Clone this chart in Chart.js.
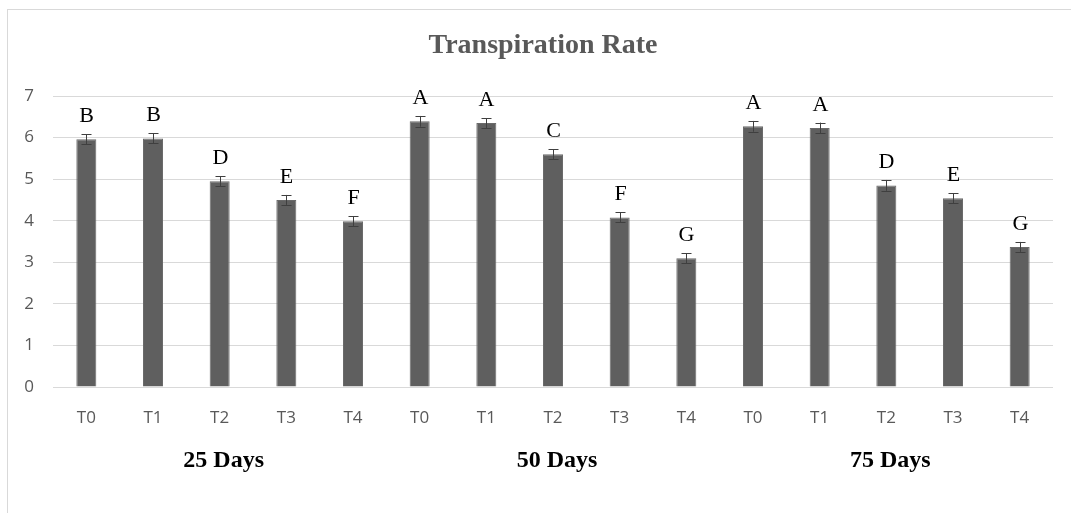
<!DOCTYPE html>
<html>
<head>
<meta charset="utf-8">
<script src="https://cdn.jsdelivr.net/npm/chart.js@4"></script>
<style>
html,body{margin:0;padding:0;background:#fff;}
#wrap{position:relative;width:1071px;height:513px;}
</style>
</head>
<body>
<div id="wrap"><canvas id="c" width="1071" height="513"></canvas></div>
<script>
const categories = ["T0","T1","T2","T3","T4","T0","T1","T2","T3","T4","T0","T1","T2","T3","T4"];
const groups = ["25 Days","50 Days","75 Days"];
const values = [5.96,5.98,4.95,4.50,3.99, 6.39,6.35,5.60,4.08,3.10, 6.27,6.23,4.85,4.54,3.37];
const errors = [0.12,0.12,0.12,0.12,0.12, 0.13,0.12,0.12,0.12,0.12, 0.13,0.13,0.13,0.12,0.12];
const letters = ["B","B","D","E","F","A","A","C","F","G","A","A","D","E","G"];
const yTicks = [0,1,2,3,4,5,6,7];
const titleText = "Transpiration Rate";

const overlay = {
  id:'overlay',
  beforeDraw(chart){
    const ctx = chart.ctx;
    ctx.save();
    ctx.fillStyle='#fff';
    ctx.fillRect(0,0,chart.width,chart.height);
    ctx.strokeStyle='#d9d9d9';
    ctx.lineWidth=1;
    ctx.strokeRect(7.5,9.5,1080,520);
    ctx.fillStyle='#595959';
    ctx.font='bold 28px "Liberation Serif", serif';
    ctx.textAlign='center';
    ctx.textBaseline='alphabetic';
    ctx.fillText(titleText, 543, 53);
    ctx.restore();
  },
  afterDatasetsDraw(chart){
    const ctx = chart.ctx;
    const x = chart.scales.x, y = chart.scales.y;
    ctx.save();
    ctx.strokeStyle='#3f3f3f';
    ctx.lineWidth=1;
    values.forEach((v,i)=>{
      const px = Math.round(x.getPixelForValue(i))+0.5;
      const top = y.getPixelForValue(v+errors[i]);
      const bot = y.getPixelForValue(v-errors[i]);
      ctx.beginPath();
      ctx.moveTo(px,top); ctx.lineTo(px,bot);
      ctx.moveTo(px-5,Math.round(top)+0.5); ctx.lineTo(px+5,Math.round(top)+0.5);
      ctx.moveTo(px-5,Math.round(bot)+0.5); ctx.lineTo(px+5,Math.round(bot)+0.5);
      ctx.stroke();
      ctx.fillStyle='#000';
      ctx.font='22px "Liberation Serif", serif';
      ctx.textAlign='center';
      ctx.textBaseline='alphabetic';
      ctx.fillText(letters[i], px, top-12);
    });
    ctx.font='bold 24px "Liberation Serif", serif';
    ctx.fillStyle='#000';
    ctx.textAlign='center';
    ctx.textBaseline='alphabetic';
    groups.forEach((g,gi)=>{
      const cx = (x.getPixelForValue(gi*5) + x.getPixelForValue(gi*5+4))/2;
      ctx.fillText(g, cx+4, 467);
    });
    ctx.restore();
  }
};

new Chart(document.getElementById('c'),{
  type:'bar',
  data:{
    labels:categories,
    datasets:[{
      data:values,
      backgroundColor:'#5f5f5f',
      borderColor:'#6a6a6a',
      borderWidth:1,
      categoryPercentage:1,
      barPercentage:0.3
    }]
  },
  options:{
    responsive:false,
    animation:false,
    devicePixelRatio:1,
    layout:{padding:{left:0,right:18,top:96,bottom:0}},
    plugins:{
      legend:{display:false},
      tooltip:{enabled:false},
      title:{display:false}
    },
    scales:{
      x:{
        grid:{display:false,drawTicks:false},
        border:{display:false},
        ticks:{color:'#595959',font:{family:'"Open Sans", sans-serif',size:17},padding:21,maxRotation:0,autoSkip:false},
        afterFit(s){s.height=126;}
      },
      y:{
        min:0,max:7,
        afterBuildTicks(s){s.ticks=yTicks.map(v=>({value:v}));},
        grid:{color:'#d9d9d9',drawTicks:false,lineWidth:1},
        border:{display:false},
        ticks:{color:'#595959',font:{family:'"Open Sans", sans-serif',size:17},padding:19},
        afterFit(s){s.width=53;}
      }
    }
  },
  plugins:[overlay]
});
</script>
</body>
</html>
